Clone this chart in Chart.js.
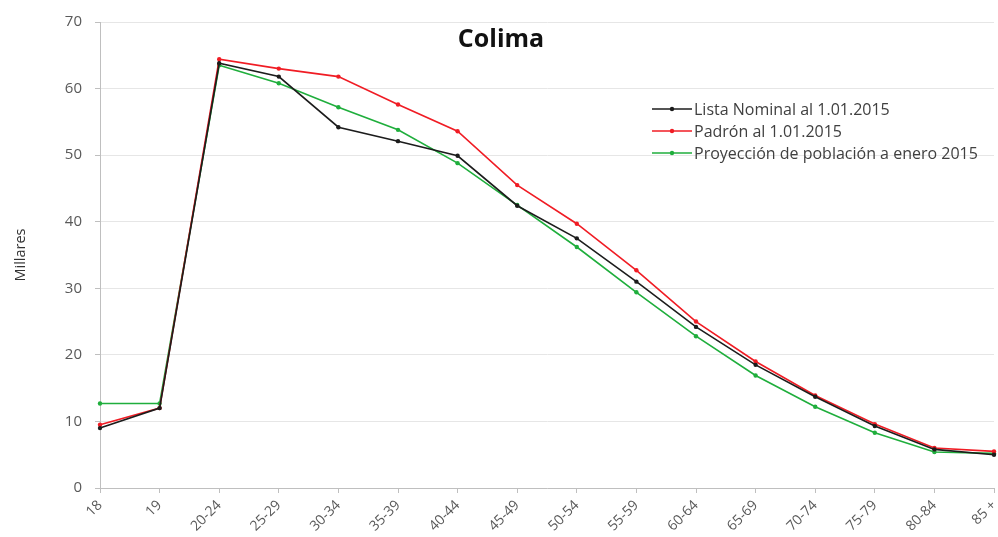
<!DOCTYPE html>
<html>
<head>
<meta charset="utf-8">
<script src="https://cdn.jsdelivr.net/npm/chart.js@4/dist/chart.umd.min.js"></script>
<style>
  html, body { margin: 0; padding: 0; background: #fff; }
  #wrap { width: 998px; height: 537px; }
</style>
</head>
<body>
<div id="wrap"><canvas id="myChart" width="998" height="537"></canvas></div>
<script>
// age groups
const labels = ['18', '19', '20-24', '25-29', '30-34', '35-39', '40-44', '45-49',
  '50-54', '55-59', '60-64', '65-69', '70-74', '75-79', '80-84', '85 +'];

// values in thousands (Millares)
const listaNominal = [9.0, 12.0, 63.8, 61.8, 54.2, 52.1, 49.9, 42.4, 37.5, 31.0, 24.2, 18.5, 13.7, 9.3, 5.8, 5.0];
const padron = [9.5, 12.0, 64.4, 63.0, 61.8, 57.6, 53.6, 45.5, 39.7, 32.7, 25.0, 19.0, 13.9, 9.6, 6.0, 5.5];
const proyeccion = [12.7, 12.7, 63.5, 60.8, 57.2, 53.8, 48.8, 42.5, 36.2, 29.4, 22.8, 16.9, 12.2, 8.3, 5.4, 5.2];

const seriesNames = ['Lista Nominal al 1.01.2015', 'Padrón al 1.01.2015', 'Proyección de población a enero 2015'];
const seriesColors = ['#1c1c1c', '#f01c24', '#1fae3c'];

const FONT = '"Open Sans", "Noto Sans", sans-serif';

function makeSet(i, values) {
  return {
    label: seriesNames[i],
    data: values,
    borderColor: seriesColors[i],
    backgroundColor: seriesColors[i],
    borderWidth: 1.6,
    pointRadius: 2.2,
    pointBorderWidth: 0,
    tension: 0
  };
}

// title + legend drawn inside the plot area
const overlay = {
  id: 'overlay',
  afterDraw(chart) {
    const ctx = chart.ctx;
    ctx.save();
    ctx.fillStyle = '#111';
    ctx.font = 'bold 25px ' + FONT;
    ctx.textAlign = 'center';
    ctx.textBaseline = 'middle';
    ctx.fillText('Colima', 501, 40);

    ctx.font = '16px ' + FONT;
    ctx.textAlign = 'left';
    const rows = [109, 131, 153];
    chart.data.datasets.forEach(function (ds, i) {
      const y = rows[i];
      ctx.strokeStyle = ds.borderColor;
      ctx.lineWidth = 1.6;
      ctx.beginPath();
      ctx.moveTo(652, y);
      ctx.lineTo(692, y);
      ctx.stroke();
      ctx.fillStyle = ds.borderColor;
      ctx.beginPath();
      ctx.arc(672, y, 2.2, 0, Math.PI * 2);
      ctx.fill();
      ctx.fillStyle = '#404040';
      ctx.fillText(ds.label, 694, y + 1);
    });
    ctx.restore();
  }
};

const config = {
  type: 'line',
  data: {
    labels: labels,
    datasets: [makeSet(0, listaNominal), makeSet(1, padron), makeSet(2, proyeccion)]
  },
  options: {
    responsive: false,
    animation: false,
    layout: { padding: { top: 22, right: 2, left: 0, bottom: 0 } },
    plugins: {
      legend: { display: false },
      title: { display: false },
      tooltip: { enabled: false }
    },
    scales: {
      x: {
        offset: false,
        grid: {
          display: true,
          drawOnChartArea: false,
          drawTicks: true,
          tickLength: 5,
          color: '#bfbfbf'
        },
        border: { color: '#bfbfbf', width: 1 },
        ticks: {
          color: '#595959',
          font: { family: FONT, size: 14 },
          minRotation: 45,
          maxRotation: 45,
          autoSkip: false,
          padding: 4
        },
        afterFit(scale) {
          scale.height = 49;
          scale.paddingLeft = 0;
          scale.paddingRight = 0;
        }
      },
      y: {
        min: 0,
        max: 70,
        ticks: {
          stepSize: 10,
          color: '#595959',
          font: { family: FONT, size: 15 },
          padding: 13
        },
        grid: {
          color: '#e6e6e6',
          tickLength: 5,
          tickColor: '#bfbfbf'
        },
        border: { color: '#bfbfbf', width: 1 },
        title: {
          display: true,
          text: 'Millares',
          color: '#333',
          font: { family: FONT, size: 14.5 },
          padding: { top: 12, bottom: 4 }
        },
        afterFit(scale) {
          scale.width = 100;
          scale.paddingTop = 0;
          scale.paddingBottom = 0;
        }
      }
    }
  },
  plugins: [overlay]
};

const myChart = new Chart(document.getElementById('myChart'), config);
</script>
</body>
</html>
